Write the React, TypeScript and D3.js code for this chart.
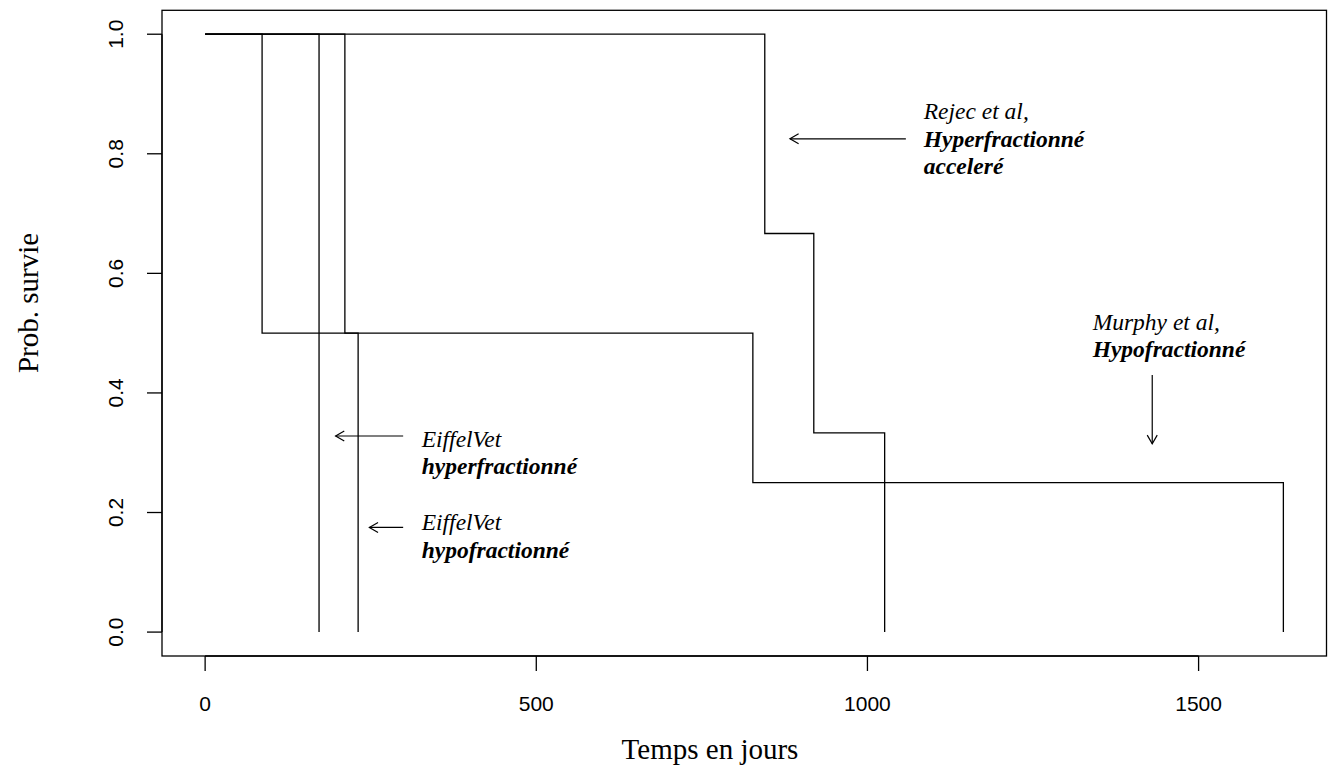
import React from "react";
import * as d3 from "d3";

// Kaplan-Meier step curves: event times (days) and survival after each time
const eiffelHyperTimes = [0, 172];
const eiffelHyperSurv = [1, 0];
const eiffelHypoTimes = [0, 211, 231];
const eiffelHypoSurv = [1, 0.5, 0];
const murphyTimes = [0, 86, 827, 1628];
const murphySurv = [1, 0.5, 0.25, 0];
const rejecTimes = [0, 845, 919, 1026];
const rejecSurv = [1, 2 / 3, 1 / 3, 0];

const xTicks = [0, 500, 1000, 1500];
const yTicks = [0, 0.2, 0.4, 0.6, 0.8, 1.0];

const xLabel = "Temps en jours";
const yLabel = "Prob. survie";

// annotations: [line1 (italic), line2.. (bold italic)], anchor x (days), centre y (prob)
const annotations = [
  { lines: ["Rejec et al,", "Hyperfractionné", "acceleré"], x: 1085, y: 0.825 },
  { lines: ["Murphy et al,", "Hypofractionné"], x: 1340, y: 0.496 },
  { lines: ["EiffelVet", "hyperfractionné"], x: 327, y: 0.3005 },
  { lines: ["EiffelVet", "hypofractionné"], x: 327, y: 0.161 },
];
// arrows: from (x0,y0) to (x1,y1) in data units
const arrowsData = [
  { x0: 1058, y0: 0.825, x1: 883, y1: 0.825 },
  { x0: 1430, y0: 0.43, x1: 1430, y1: 0.315 },
  { x0: 299, y0: 0.328, x1: 197, y1: 0.328 },
  { x0: 299, y0: 0.175, x1: 248, y1: 0.175 },
];

const W = 1328;
const H = 773;
const left = 162;
const right = 1326.5;
const top = 10.3;
const bottom = 656;

export default function App() {
  const tMax = 1628;
  const x = d3.scaleLinear().domain([-0.04 * tMax, 1.04 * tMax]).range([left, right]);
  const y = d3.scaleLinear().domain([-0.04, 1.04]).range([bottom, top]);
  const line = d3
    .line<[number, number]>()
    .x((d) => x(d[0]))
    .y((d) => y(d[1]))
    .curve(d3.curveStepAfter);

  const curves = [
    [eiffelHyperTimes, eiffelHyperSurv],
    [eiffelHypoTimes, eiffelHypoSurv],
    [murphyTimes, murphySurv],
    [rejecTimes, rejecSurv],
  ].map(([t, s]) => t.map((v, i) => [v, s[i]] as [number, number]));

  const serif = "'Liberation Serif', 'Times New Roman', serif";
  const sans = "'Liberation Sans', Arial, sans-serif";
  const annSize = 23.5;
  const lineGap = 27.5;
  const headLen = 10;

  return (
    <div style={{ position: "absolute", left: 0, top: 0 }}>
      <svg width={W} height={H} style={{ display: "block", background: "#fff" }}>
        <rect x={left} y={top} width={right - left} height={bottom - top} fill="none" stroke="#000" strokeWidth={1.3} />
        {/* x axis */}
        <line x1={x(xTicks[0])} x2={x(xTicks[xTicks.length - 1])} y1={bottom} y2={bottom} stroke="#000" strokeWidth={1.3} />
        {xTicks.map((t) => (
          <g key={"xt" + t}>
            <line x1={x(t)} x2={x(t)} y1={bottom} y2={bottom + 15} stroke="#000" strokeWidth={1.3} />
            <text x={x(t)} y={711} textAnchor="middle" fontFamily={sans} fontSize={21}>
              {t}
            </text>
          </g>
        ))}
        {/* y axis */}
        <line x1={left} x2={left} y1={y(0)} y2={y(1)} stroke="#000" strokeWidth={1.3} />
        {yTicks.map((t) => (
          <g key={"yt" + t}>
            <line x1={left} x2={left - 15} y1={y(t)} y2={y(t)} stroke="#000" strokeWidth={1.3} />
            <text
              transform={`translate(123,${y(t)}) rotate(-90)`}
              textAnchor="middle"
              fontFamily={sans}
              fontSize={21}
            >
              {t.toFixed(1)}
            </text>
          </g>
        ))}
        <text x={710} y={759} textAnchor="middle" fontFamily={serif} fontSize={29}>
          {xLabel}
        </text>
        <text transform={`translate(38,303) rotate(-90)`} textAnchor="middle" fontFamily={serif} fontSize={29}>
          {yLabel}
        </text>
        {/* curves */}
        {curves.map((c, i) => (
          <path key={"c" + i} d={line(c) || ""} fill="none" stroke="#000" strokeWidth={1.3} />
        ))}
        {/* arrows */}
        {arrowsData.map((a, i) => {
          const X0 = x(a.x0), Y0 = y(a.y0), X1 = x(a.x1), Y1 = y(a.y1);
          const ang = Math.atan2(Y1 - Y0, X1 - X0);
          const p1 = [X1 - headLen * Math.cos(ang - Math.PI / 6), Y1 - headLen * Math.sin(ang - Math.PI / 6)];
          const p2 = [X1 - headLen * Math.cos(ang + Math.PI / 6), Y1 - headLen * Math.sin(ang + Math.PI / 6)];
          return (
            <g key={"a" + i} stroke="#000" strokeWidth={1.2} fill="none">
              <line x1={X0} y1={Y0} x2={X1} y2={Y1} />
              <polyline points={`${p1[0]},${p1[1]} ${X1},${Y1} ${p2[0]},${p2[1]}`} />
            </g>
          );
        })}
        {/* annotations */}
        {annotations.map((a, i) => {
          const n = a.lines.length;
          const cy = y(a.y);
          return (
            <g key={"t" + i}>
              {a.lines.map((l, j) => (
                <text
                  key={j}
                  x={x(a.x)}
                  y={cy + (j - (n - 1) / 2) * lineGap}
                  dominantBaseline="central"
                  fontFamily={serif}
                  fontSize={annSize}
                  fontStyle="italic"
                  fontWeight={j === 0 ? "normal" : "bold"}
                >
                  {l}
                </text>
              ))}
            </g>
          );
        })}
      </svg>
    </div>
  );
}
